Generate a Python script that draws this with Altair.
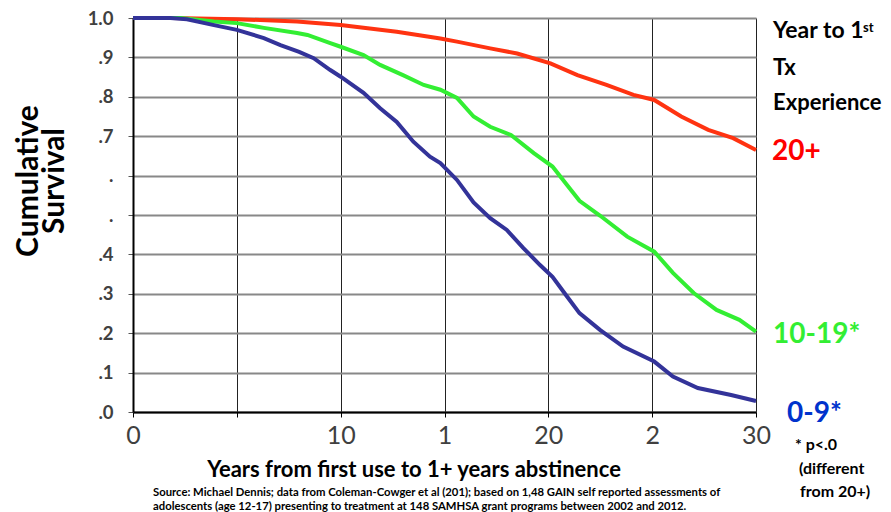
import altair as alt
import pandas as pd

# ---- data ----
years_20p = [0, 1.9, 5.0, 7.9, 10.0, 12.7, 14.8, 15.6, 17.2, 18.5, 20.1, 21.4, 22.8, 24.1, 25.1, 26.4, 27.7, 28.9, 30.0]
surv_20p = [1.0, 1.0, 0.997, 0.991, 0.982, 0.965, 0.948, 0.940, 0.923, 0.910, 0.885, 0.855, 0.830, 0.805, 0.792, 0.750, 0.716, 0.695, 0.665]

years_1019 = [0, 2.3, 3.9, 5.0, 6.3, 7.9, 8.4, 9.5, 10.0, 11.1, 11.9, 13.0, 14.0, 14.8, 15.6, 16.4, 17.2, 18.2, 19.3, 20.2, 20.9, 21.5, 22.5, 23.8, 25.1, 26.0, 27.0, 28.1, 29.2, 30.0]
surv_1019 = [1.0, 1.0, 0.991, 0.987, 0.975, 0.962, 0.957, 0.936, 0.927, 0.906, 0.881, 0.855, 0.830, 0.818, 0.797, 0.750, 0.724, 0.703, 0.657, 0.623, 0.576, 0.536, 0.498, 0.445, 0.407, 0.353, 0.302, 0.259, 0.234, 0.204]

years_09 = [0, 1.8, 2.6, 3.9, 5.0, 6.3, 7.1, 8.0, 8.7, 9.5, 10.0, 11.1, 11.9, 12.7, 13.5, 14.3, 14.8, 15.6, 16.4, 17.2, 18.0, 18.8, 19.6, 20.2, 20.9, 21.5, 22.5, 23.6, 25.1, 26.0, 27.2, 28.8, 30.0]
surv_09 = [1.0, 1.0, 0.997, 0.982, 0.970, 0.949, 0.931, 0.914, 0.898, 0.868, 0.851, 0.810, 0.771, 0.736, 0.686, 0.648, 0.632, 0.589, 0.532, 0.492, 0.462, 0.416, 0.373, 0.343, 0.293, 0.251, 0.208, 0.166, 0.128, 0.090, 0.061, 0.043, 0.028]

series_names = ["20+", "10-19*", "0-9*"]
series_colors = ["#FF3311", "#33EE33", "#333399"]
label_colors = ["#FF0000", "#33EE33", "#0033CC"]

x_tick_values = [0, 5, 10, 15, 20, 25, 30]
x_tick_labels = ["0", "", "10", "1", "20", "2", "30"]
y_tick_values = [0.0, 0.1, 0.2, 0.3, 0.4, 0.5, 0.6, 0.7, 0.8, 0.9, 1.0]
y_tick_labels = [".0", ".1", ".2", ".3", ".4", ".", ".", ".7", ".8", ".9", "1.0"]

y_title = ["Cumulative", "Survival"]
x_title = "Years from first use to 1+ years abstinence"
legend_head = ["Year to 1", "st", "Tx", "Experience"]
note_lines = ["* p<.0", "(different", "from 20+)"]
source_lines = [
    "Source: Michael Dennis; data from Coleman-Cowger et al (201); based on 1,48 GAIN self reported assessments of",
    "adolescents (age 12-17) presenting to treatment at 148 SAMHSA grant programs between 2002 and 2012.",
]

FONT = "Lato"

frames = []
for name, ys, vs in [(series_names[0], years_20p, surv_20p),
                     (series_names[1], years_1019, surv_1019),
                     (series_names[2], years_09, surv_09)]:
    frames.append(pd.DataFrame({"year": ys, "surv": vs, "group": name}))
df = pd.concat(frames, ignore_index=True)


def expr_from(values, labels):
    e = "''"
    for v, l in zip(reversed(values), reversed(labels)):
        e = f"abs(datum.value - {v}) < 0.001 ? '{l}' : ({e})"
    return e


W, H = 623, 394

lines = alt.Chart(df).mark_line(strokeWidth=4, interpolate="linear").encode(
    x=alt.X("year:Q", scale=alt.Scale(domain=[0, 30], nice=False),
            axis=alt.Axis(values=x_tick_values, labelExpr=expr_from(x_tick_values, x_tick_labels),
                          title=None, grid=True, gridColor="#222222", gridWidth=1,
                          domainColor="#000000", domainWidth=2, tickColor="#000000", tickSize=5,
                          labelFont=FONT, labelFontSize=25, labelColor="#404040",
                          labelFontWeight="normal", labelPadding=6, labelFlush=False)),
    y=alt.Y("surv:Q", scale=alt.Scale(domain=[0, 1], nice=False),
            axis=alt.Axis(values=y_tick_values, labelExpr=expr_from(y_tick_values, y_tick_labels),
                          title=None, grid=True, gridColor="#888888", gridWidth=2,
                          domainColor="#000000", domainWidth=2, tickColor="#555555", tickSize=5,
                          labelFont=FONT, labelFontSize=18.5, labelColor="#404040",
                          labelFontWeight="bold", labelPadding=15, labelFlush=False)),
    color=alt.Color("group:N", scale=alt.Scale(domain=series_names, range=series_colors), legend=None),
    order=alt.Order("year:Q"),
)


def txt(text, x, y, size, color="#000000", weight="bold", align="left", baseline="alphabetic", angle=0):
    kw = dict(font=FONT, fontSize=size, color=color, fontWeight=weight, align=align, baseline=baseline)
    if angle:
        kw["angle"] = angle
    return alt.Chart(pd.DataFrame({"t": [text]})).mark_text(**kw).encode(
        x=alt.value(x), y=alt.value(y), text="t:N")


texts = [
    txt(y_title[0], -104, 163, 30, angle=270, align="center", baseline="middle"),
    txt(y_title[1], -78, 163, 30, angle=270, align="center", baseline="middle"),
    txt(legend_head[0], 640, 20, 23),
    txt(legend_head[1], 730, 14, 13),
    txt(legend_head[2], 640, 57, 22),
    txt(legend_head[3], 640, 92, 22),
    txt(series_names[0], 639, 142, 28, color=label_colors[0]),
    txt(series_names[1], 640, 325, 28, color=label_colors[1]),
    txt(series_names[2], 654, 404, 28, color=label_colors[2]),
    txt(note_lines[0], 662, 432, 16),
    txt(note_lines[1], 666, 456, 16),
    txt(note_lines[2], 667, 479, 16),
    txt(x_title, 281, 452, 22, align="center", baseline="middle"),
    txt(source_lines[0], 20, 475, 11.3, align="left", baseline="middle"),
    txt(source_lines[1], 20, 489, 11.3, align="left", baseline="middle"),
]

chart = alt.layer(lines, *texts).properties(
    width=W, height=H,
    autosize=alt.AutoSizeParams(type="none"),
    padding={"left": 125, "top": 10, "right": 127, "bottom": 100},
).configure_view(stroke="#000000", strokeWidth=1.5).configure(background="white")

chart.save("out.html", embed_options={"renderer": "svg", "actions": False})
